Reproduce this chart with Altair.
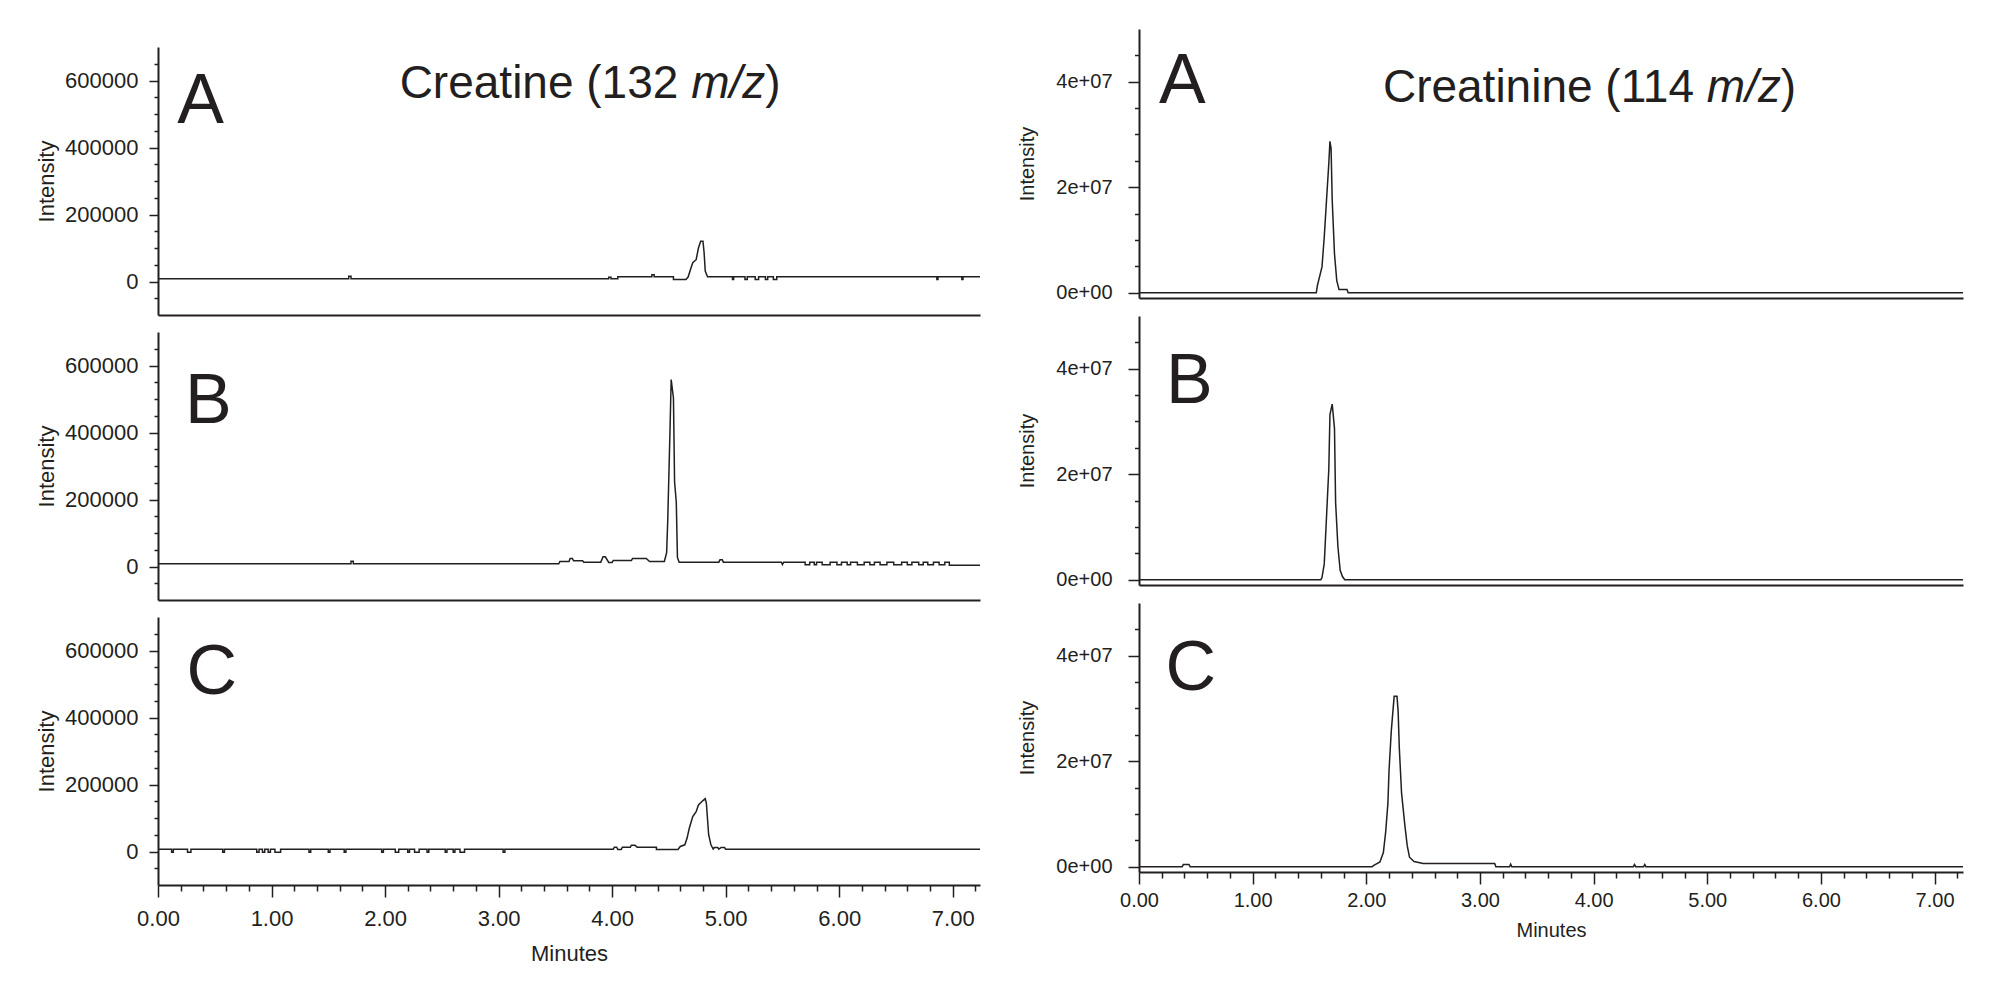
import altair as alt
import pandas as pd

FONT = "Liberation Sans"
INK = "#231f20"

# ---- traces: (minutes, intensity) ----
creatine_a = [
    (0.00, 8000), (1.68, 8000), (1.68, 16000), (1.70, 16000), (1.70, 8000),
    (3.97, 8000), (3.97, 13000), (3.99, 13000), (3.99, 8000),
    (4.05, 8000), (4.05, 14000), (4.35, 14000), (4.35, 20000), (4.37, 20000), (4.37, 14000),
    (4.54, 14000), (4.54, 6000), (4.65, 6000), (4.66, 10000), (4.67, 14000), (4.69, 36000),
    (4.71, 56000), (4.74, 65000), (4.76, 100000), (4.78, 120000), (4.80, 120000),
    (4.81, 86000), (4.82, 31000), (4.84, 14000),
    (5.06, 14000), (5.06, 6000), (5.07, 6000), (5.07, 14000),
    (5.17, 14000), (5.17, 6000), (5.19, 6000), (5.19, 14000),
    (5.26, 14000), (5.26, 6000), (5.29, 6000), (5.29, 14000),
    (5.35, 14000), (5.35, 6000), (5.37, 6000), (5.37, 14000),
    (5.42, 14000), (5.42, 6000), (5.45, 6000), (5.45, 14000),
    (6.86, 14000), (6.86, 6000), (6.87, 6000), (6.87, 14000),
    (7.08, 14000), (7.08, 6000), (7.09, 6000), (7.09, 14000),
    (7.24, 14000),
]

creatine_b = [
    (0.00, 8000), (1.70, 8000), (1.70, 16000), (1.72, 16000), (1.72, 8000),
    (3.53, 8000), (3.54, 15000), (3.62, 15000), (3.63, 24000), (3.65, 24000), (3.66, 17000),
    (3.74, 17000), (3.75, 13000), (3.90, 13000), (3.92, 29000), (3.94, 29000), (3.97, 12000),
    (4.00, 12000), (4.01, 18000), (4.17, 18000), (4.18, 24000), (4.30, 24000), (4.33, 15000),
    (4.46, 15000), (4.48, 41000), (4.49, 141000), (4.51, 412000), (4.52, 558000),
    (4.54, 503000), (4.55, 252000), (4.565, 192000), (4.575, 27000), (4.59, 13000),
    (4.94, 13000), (4.95, 20000), (4.97, 20000), (4.98, 13000),
    (5.49, 13000), (5.50, 6000), (5.51, 13000),
    (5.70, 13000), (5.70, 5000), (5.74, 5000), (5.74, 13000),
    (5.78, 13000), (5.78, 5000), (5.80, 5000), (5.80, 13000),
    (5.85, 13000), (5.85, 5000), (5.92, 5000), (5.92, 13000),
    (5.98, 13000), (5.98, 5000), (6.02, 5000), (6.02, 13000),
    (6.07, 13000), (6.07, 5000), (6.10, 5000), (6.10, 13000),
    (6.16, 13000), (6.16, 5000), (6.22, 5000), (6.22, 13000),
    (6.27, 13000), (6.27, 5000), (6.31, 5000), (6.31, 13000),
    (6.36, 13000), (6.36, 5000), (6.42, 5000), (6.42, 13000),
    (6.48, 13000), (6.48, 5000), (6.55, 5000), (6.55, 13000),
    (6.60, 13000), (6.60, 5000), (6.64, 5000), (6.64, 13000),
    (6.70, 13000), (6.70, 5000), (6.74, 5000), (6.74, 13000),
    (6.78, 13000), (6.78, 5000), (6.83, 5000), (6.83, 13000),
    (6.88, 13000), (6.88, 5000), (6.93, 5000), (6.93, 13000),
    (6.97, 13000), (6.97, 4000), (7.24, 4000),
]

creatine_c = [
    (0.00, 7000), (0.12, 7000), (0.12, -2000), (0.135, -2000), (0.135, 7000),
    (0.26, 7000), (0.26, -2000), (0.29, -2000), (0.29, 7000),
    (0.57, 7000), (0.57, -2000), (0.585, -2000), (0.585, 7000),
    (0.87, 7000), (0.87, -2000), (0.89, -2000), (0.89, 7000),
    (0.92, 7000), (0.92, -2000), (0.94, -2000), (0.94, 7000),
    (0.97, 7000), (0.97, -2000), (0.99, -2000), (0.99, 7000),
    (1.03, 7000), (1.03, -2000), (1.08, -2000), (1.08, 7000),
    (1.33, 7000), (1.33, -2000), (1.345, -2000), (1.345, 7000),
    (1.50, 7000), (1.50, -2000), (1.515, -2000), (1.515, 7000),
    (1.64, 7000), (1.64, -2000), (1.655, -2000), (1.655, 7000),
    (1.97, 7000), (1.97, -2000), (1.985, -2000), (1.985, 7000),
    (2.09, 7000), (2.09, -2000), (2.12, -2000), (2.12, 7000),
    (2.20, 7000), (2.20, -2000), (2.215, -2000), (2.215, 7000),
    (2.26, 7000), (2.26, -2000), (2.30, -2000), (2.30, 7000),
    (2.37, 7000), (2.37, -2000), (2.385, -2000), (2.385, 7000),
    (2.53, 7000), (2.53, -2000), (2.545, -2000), (2.545, 7000),
    (2.60, 7000), (2.60, -2000), (2.615, -2000), (2.615, 7000),
    (2.66, 7000), (2.66, -2000), (2.70, -2000), (2.70, 7000),
    (3.04, 7000), (3.04, -2000), (3.055, -2000), (3.055, 7000),
    (4.01, 7000), (4.02, 13000), (4.04, 13000), (4.05, 6000), (4.08, 6000), (4.09, 13000),
    (4.16, 13000), (4.17, 19000), (4.20, 19000), (4.22, 13000), (4.39, 13000), (4.39, 6000),
    (4.58, 6000), (4.60, 15000), (4.64, 20000), (4.66, 40000), (4.68, 70000), (4.71, 104000),
    (4.74, 119000), (4.76, 139000), (4.80, 152000), (4.82, 158000), (4.83, 144000),
    (4.85, 50000), (4.87, 20000), (4.89, 7000), (4.90, 12000), (4.93, 12000), (4.94, 7000),
    (4.96, 12000), (4.99, 12000), (5.00, 7000), (7.24, 7000),
]

creatinine_a = [
    (0.00, 0), (1.56, 0), (1.57, 1.4e6), (1.61, 4.9e6), (1.63, 1.06e7), (1.65, 1.76e7),
    (1.67, 2.45e7), (1.68, 2.87e7), (1.69, 2.74e7), (1.70, 1.76e7), (1.72, 7.4e6),
    (1.74, 2.3e6), (1.76, 6e5), (1.83, 6e5), (1.84, 0), (7.25, 0),
]

creatinine_b = [
    (0.00, 0), (1.60, 0), (1.61, 4e5), (1.63, 3.0e6), (1.65, 1.2e7), (1.67, 2.1e7),
    (1.68, 3.13e7), (1.70, 3.33e7), (1.72, 2.87e7), (1.73, 1.46e7), (1.75, 6.3e6),
    (1.77, 1.8e6), (1.79, 6e5), (1.81, 0), (7.25, 0),
]

creatinine_c = [
    (0.00, 0), (0.38, 0), (0.39, 4e5), (0.44, 4e5), (0.45, 0),
    (2.05, 0), (2.07, 3e5), (2.12, 9e5), (2.15, 2.7e6), (2.17, 6.5e6), (2.19, 1.2e7),
    (2.20, 1.83e7), (2.22, 2.58e7), (2.245, 3.23e7), (2.27, 3.23e7), (2.28, 2.95e7),
    (2.29, 2.27e7), (2.31, 1.4e7), (2.34, 7.7e6), (2.36, 4e6), (2.38, 1.8e6),
    (2.42, 1e6), (2.50, 6e5), (3.13, 6e5), (3.14, 0), (3.26, 0), (3.27, 5e5), (3.28, 0),
    (4.35, 0), (4.36, 4e5), (4.37, 0), (4.44, 0), (4.45, 4e5), (4.46, 0), (7.25, 0),
]

# panel letters and headings, placed in data units
left_letters = [("A", 0.17, 473000), ("B", 0.238, 428000), ("C", 0.25, 469000)]
right_letters = [("A", 0.176, 3.6e7), ("B", 0.237, 3.35e7), ("C", 0.233, 3.36e7)]
left_heading = ("Creatine (132", "m/z", 4.696, 548000)
right_heading = ("Creatinine (114", "m/z", 4.996, 3.62e7)

left_y_ticks = [-50000, 0, 50000, 100000, 150000, 200000, 250000, 300000, 350000,
                400000, 450000, 500000, 550000, 600000, 650000]
right_y_ticks = [0, 5e6, 1e7, 1.5e7, 2e7, 2.5e7, 3e7, 3.5e7, 4e7, 4.5e7]
minute_ticks = [round(0.2 * k, 1) for k in range(37)]

IS_WHOLE = "abs(datum.value - round(datum.value)) < 0.001"


def x_axis_bottom(font_size, label_pad, title_pad):
    return alt.Axis(values=minute_ticks, title="Minutes",
                    labelExpr=f"{IS_WHOLE} ? format(datum.value, '.2f') : ''",
                    tickSize={"condition": {"test": IS_WHOLE, "value": 12}, "value": 6},
                    labelFontSize=font_size, titleFontSize=font_size,
                    labelPadding=label_pad, titlePadding=title_pad,
                    labelOverlap=False, labelFlush=False)


x_axis_plain = alt.Axis(ticks=False, labels=False, title=None)

y_axis_left = alt.Axis(values=left_y_ticks, title="Intensity",
                       labelExpr="datum.value % 200000 == 0 ? format(datum.value, 'd') : ''",
                       tickSize={"condition": {"test": "datum.value % 200000 == 0", "value": 9}, "value": 4},
                       labelFontSize=22, titleFontSize=22, labelPadding=11, titlePadding=6,
                       labelOverlap=False, labelFlush=False)

y_axis_right = alt.Axis(values=right_y_ticks, title="Intensity",
                        labelExpr="datum.value % 20000000 == 0 ? replace(format(datum.value, '.0e'), 'e+', 'e+0') : ''",
                        tickSize={"condition": {"test": "datum.value % 20000000 == 0", "value": 11}, "value": 4.5},
                        labelFontSize=20, titleFontSize=20, labelPadding=16, titlePadding=18,
                        labelOverlap=False, labelFlush=False)


def panel(points, letter, x_dom, y_dom, x_axis, y_axis, width, height, heading=None):
    df = pd.DataFrame(points, columns=["t", "inten"])
    df["k"] = range(len(df))
    x = alt.X("t:Q", scale=alt.Scale(domain=x_dom, nice=False, zero=False), axis=x_axis)
    y = alt.Y("inten:Q", scale=alt.Scale(domain=y_dom, nice=False, zero=False), axis=y_axis)
    layers = [alt.Chart(df).mark_line(color=INK, strokeWidth=1.5).encode(x=x, y=y, order="k:Q")]

    tag = pd.DataFrame({"t": [letter[1]], "inten": [letter[2]], "txt": [letter[0]]})
    layers.append(alt.Chart(tag).mark_text(font=FONT, fontSize=70, align="left", baseline="alphabetic",
                                           color=INK).encode(x=x, y=y, text="txt:N"))
    if heading:
        hd = pd.DataFrame({"t": [heading[2]], "inten": [heading[3]],
                           "a": [heading[0]], "b": [heading[1]], "c": [")"]})
        txt = dict(font=FONT, fontSize=46, baseline="alphabetic", color=INK)
        base = alt.Chart(hd)
        layers += [
            base.mark_text(align="right", dx=-12.8, **txt).encode(x=x, y=y, text="a:N"),
            base.mark_text(align="left", fontStyle="italic", **txt).encode(x=x, y=y, text="b:N"),
            base.mark_text(align="left", dx=74, **txt).encode(x=x, y=y, text="c:N"),
        ]
    return alt.layer(*layers).properties(width=width, height=height)


LW, LH = 822, 268
RW, RH = 824, 269
left_x = [0, 7.24]
right_x = [0, 7.25]
left_y = [-100000, 700000]
right_y = [-1e6, 5e7]

# an empty 1px strip on top of the left column, so it starts lower than the right one
spacer = alt.Chart(pd.DataFrame({"t": [0.0]})).mark_point(opacity=0, size=0).encode(
    x=alt.X("t:Q", axis=None), y=alt.value(0)
).properties(width=LW, height=1)

left_col = alt.vconcat(
    spacer,
    panel(creatine_a, left_letters[0], left_x, left_y, x_axis_plain, y_axis_left, LW, LH, left_heading),
    panel(creatine_b, left_letters[1], left_x, left_y, x_axis_plain, y_axis_left, LW, LH),
    panel(creatine_c, left_letters[2], left_x, left_y, x_axis_bottom(22, 11, 14.5), y_axis_left, LW, LH),
    spacing=17, bounds="flush",
)

right_col = alt.vconcat(
    panel(creatinine_a, right_letters[0], right_x, right_y, x_axis_plain, y_axis_right, RW, RH, right_heading),
    panel(creatinine_b, right_letters[1], right_x, right_y, x_axis_plain, y_axis_right, RW, RH),
    panel(creatinine_c, right_letters[2], right_x, right_y, x_axis_bottom(20, 6.5, 10), y_axis_right, RW, RH),
    spacing=18, bounds="flush",
)

chart = alt.hconcat(left_col, right_col, spacing=34).properties(
    padding={"left": 27, "top": 21, "right": 5, "bottom": 5}
).configure_view(stroke=None).configure_axis(
    grid=False, domainColor=INK, domainWidth=2, tickColor=INK, tickWidth=1.5,
    labelColor=INK, titleColor=INK, labelFont=FONT, titleFont=FONT, titleFontWeight="normal"
)

chart.save("out.html", embed_options={"renderer": "svg", "actions": False})
